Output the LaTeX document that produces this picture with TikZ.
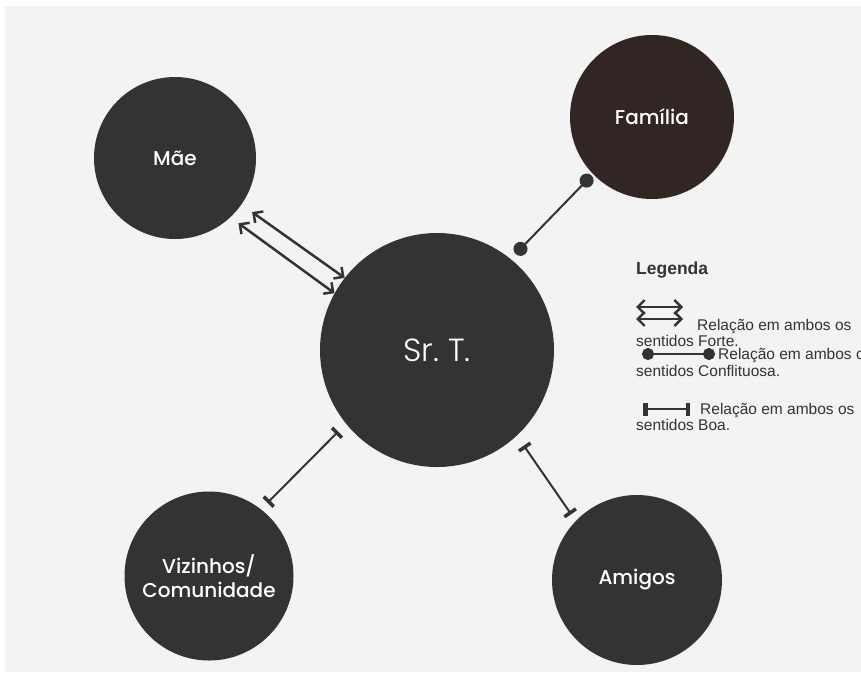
\documentclass[tikz,border=0pt]{standalone}
\usepackage{fontspec}
\setmainfont{Liberation Sans}
\newfontfamily\rotulo{Poppins}[UprightFont=* Medium]
\newfontfamily\rotulofino{Poppins}[UprightFont=* Light]
\usepackage{tikz}
\usetikzlibrary{arrows.meta}
\definecolor{fundo}{HTML}{F3F3F3}
\definecolor{escuro}{HTML}{333333}
\definecolor{marrom}{HTML}{312624}

\begin{document}
\begin{tikzpicture}[x=1pt,y=-1pt,
    persona/.style={circle,fill=escuro,text=white,inner sep=0pt,align=center,
      font=\rotulo\fontsize{20}{24}\selectfont},
    forte/.style={draw=escuro,line width=2.5pt,
      {Straight Barb[length=7pt,width=14pt]}-{Straight Barb[length=7pt,width=14pt]}},
    confl/.style={draw=escuro,fill=escuro,line width=2pt,{Circle[length=14pt]}-{Circle[length=14pt]}},
    boa/.style={draw=escuro,line width=2pt,
      {Bar[width=14pt,line width=3.5pt]}-{Bar[width=14pt,line width=3.5pt]}},
    leg/.style={text=escuro,inner sep=0pt,anchor=base west,font=\fontsize{15.5}{17}\selectfont}]

  \clip (0,0) rectangle (861,673);
  \fill[fundo] (5,6) rectangle (861,672);

  % pessoas
  \draw (437,350) node[persona,minimum size=234pt,font=\rotulofino\fontsize{32}{36}\selectfont] (srt) {Sr.~T.};
  \draw (175,158) node[persona,minimum size=162pt] (mae) {Mãe};
  \draw (652,117) node[persona,minimum size=164pt,fill=marrom] (fam) {Família};
  \draw (209,576) node[persona,minimum size=169pt] (viz) {Vizinhos/\\Comunidade};
  \draw (637,580) node[persona,minimum size=170pt] (ami) {Amigos};

  % relacoes
  \path (mae.-35) edge[forte,shorten <=13pt] (srt.142);
  \path (mae.-47) edge[forte,shorten <=10pt] (srt.151);
  \path (fam.224) edge[confl,shorten <=2pt,shorten >=7pt] (srt.51);
  \path (viz.52) edge[boa,shorten <=9pt,shorten >=11pt] (srt.219);
  \path (srt.-47) edge[boa,shorten <=12pt,shorten >=8pt] (ami.136);

  % legenda
  \draw (636,274) node[leg,font=\bfseries\fontsize{17.5}{20}\selectfont] (legenda) {Legenda};

  \coordinate (fa1) at (636,307); \coordinate (fb1) at (683,307);
  \coordinate (fa2) at (636,319); \coordinate (fb2) at (683,319);
  \path (fa1) edge[forte,line width=2.4pt] (fb1)
        (fa2) edge[forte,line width=2.4pt] (fb2);
  \draw (697,330) node[leg] (forte1) {Relação em ambos os};
  \draw (636,346) node[leg] (forte2) {sentidos Forte.};

  \coordinate (ca) at (642,354); \coordinate (cb) at (715,354);
  \path (ca) edge[confl,{Circle[length=12pt]}-{Circle[length=12pt]}] (cb);
  \draw (718,359) node[leg] (confl1) {Relação em ambos os};
  \draw (636,376) node[leg] (confl2) {sentidos Conflituosa.};

  \coordinate (ba) at (643,409); \coordinate (bb) at (690,409);
  \path (ba) edge[boa,{Bar[width=13pt,line width=4.5pt]}-{Bar[width=13pt,line width=4.5pt]}] (bb);
  \draw (700,414) node[leg] (boa1) {Relação em ambos os};
  \draw (636,430) node[leg] (boa2) {sentidos Boa.};

\end{tikzpicture}
\end{document}
